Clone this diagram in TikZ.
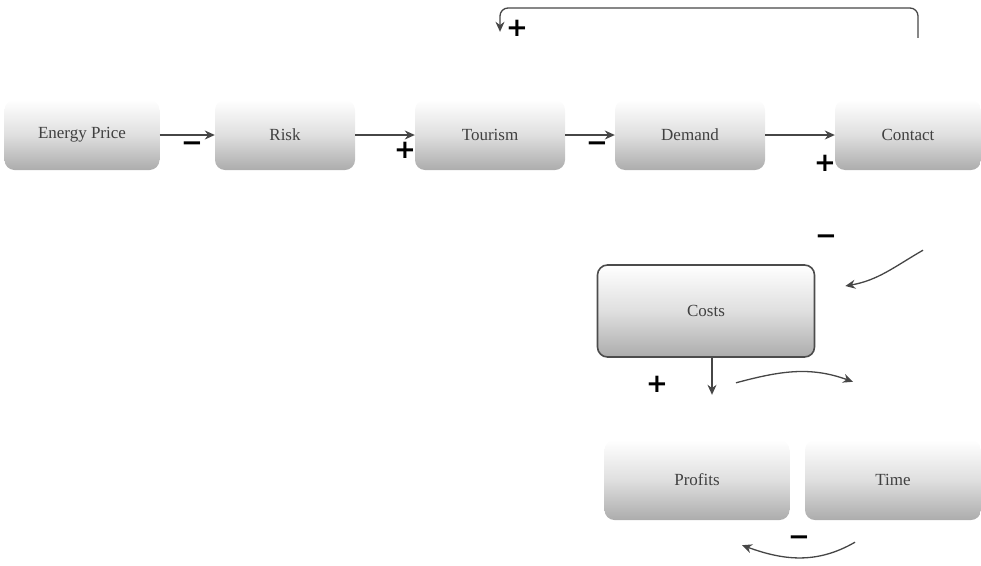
\documentclass[tikz,border=0pt]{standalone}
\usepackage{fontspec}
\setmainfont{Liberation Serif}
\newfontfamily\signfont{DejaVu Sans}
\usetikzlibrary{arrows.meta,calc}
\begin{document}
\begin{tikzpicture}[x=1pt,y=-1pt,
  var/.style={rounded corners=10pt, top color=white, bottom color=gray!65, middle color=gray!25,
    minimum height=70pt, inner sep=2pt, font=\fontsize{17}{19}\selectfont, text=black!75},
  boxvar/.style={var, draw=gray!60!black, line width=1.6pt, minimum height=92pt, minimum width=217pt},
  link/.style={-{Stealth[length=10pt,width=9pt]}, line width=1.3pt, draw=gray!55!black},
  sgn/.style={font=\signfont\bfseries\fontsize{26}{26}\selectfont, text=black, inner sep=1pt}]
\useasboundingbox (0,0) rectangle (981,565);
\node[var, minimum width=155pt] (n1) at (82,135) {Energy Price};
\node[var, minimum width=140pt] (n2) at (285,135) {Risk};
\node[var, minimum width=150pt] (n3) at (490,135) {Tourism};
\node[var, minimum width=150pt] (n4) at (690,135) {Demand};
\node[var, minimum width=146pt] (n5) at (908,135) {Contact};
\node[boxvar] (bx) at (706,311) {Costs};
\node[var, minimum width=185pt, minimum height=80pt] (n6) at (697,480) {Profits};
\node[var, minimum width=176pt, minimum height=80pt] (n7) at (893,480) {Time};
% horizontal chain
\draw[link] (n1) -- (n2);
\draw[link] (n2) -- (n3);
\draw[link] (n3) -- (n4);
\draw[link] (n4) -- (n5);
\node[sgn] (s1) at (192,147) {−};
\node[sgn] (s2) at (405,150) {+};
\node[sgn] (s3) at (597,147) {−};
\node[sgn] (s4) at (825,163) {+};
% top feedback
\draw[link, rounded corners=8pt, shorten >=68pt] ($(n5.north)+(10,-62)$) coordinate (t5) -- (t5 |- 0,8) -- (500,8) -- ($(n3.north)+(10,0)$);
\node[sgn] (s5) at (517,28) {+};
% to box
\draw[link] ($(n5.south)+(15,80)$) coordinate (c5) to[out=-150, in=10] ($(bx.east)+(30,-25)$);
\node[sgn] (s6) at (826,240) {−};
% box down
\draw[link, shorten >=45pt] (bx.south) ++(6,0) coordinate (bs) -- (bs |- n6.north);
\node[sgn] (s7) at (657,384) {+};
\draw[link] ($(bx.south)+(30,25)$) coordinate (b2) to[out=15, in=160] ($(n7.north)+(-40,-58)$);
% bottom feedback
\draw[link] ($(n7.south)+(-38,22)$) coordinate (b7) to[out=-150, in=-20] ($(n6.south)+(45,25)$);
\node[sgn] (s8) at (799,541) {−};
\end{tikzpicture}
\end{document}
